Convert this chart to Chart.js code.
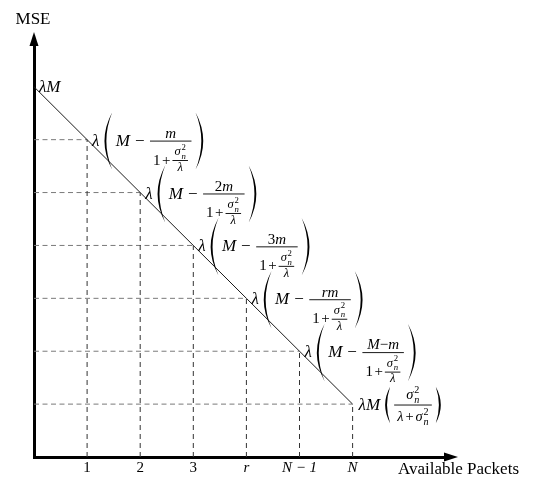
<!DOCTYPE html>
<html>
<head>
<meta charset="utf-8">
<script src="https://cdn.jsdelivr.net/npm/chart.js@4.4.0/dist/chart.umd.min.js"></script>
<style>
html, body { margin: 0; padding: 0; background: #fff; }
#wrap { width: 538px; height: 483px; }
</style>
</head>
<body>
<div id="wrap"><canvas id="mseChart" width="538" height="483"></canvas></div>
<script>
// --- Data ---
const packets = [0, 1, 2, 3, 4, 5, 6];
const packetLabels = ['', '1', '2', '3', 'r', 'N − 1', 'N'];
const mseLevels = [7, 6, 5, 4, 3, 2, 1];
const numerators = ['', 'm', '2m', '3m', 'rm', 'M−m', ''];
const yTitle = 'MSE';
const xTitle = 'Available Packets';

const SERIF = '"Liberation Serif", "DejaVu Serif", serif';
const S = 17, s = 15, ss = 12.5; // tailles : texte, fraction, fraction imbriquée
let mctx;

function fnt(size, italic) { return (italic ? 'italic ' : '') + size + 'px ' + SERIF; }

// --- petit moteur de formules ---
function txt(str, size, italic) {
    mctx.font = fnt(size, italic);
    const w = mctx.measureText(str).width;
    return { w, asc: size * 0.68, desc: size * 0.08,
        draw(x, b) { mctx.font = fnt(size, italic); mctx.fillText(str, x, b); } };
}

// lettres en italique, chiffres et signes droits
function mathStr(str, size) {
    const parts = [];
    let cur = '', curIt = null;
    for (const ch of str) {
        const it = /[a-zA-Zλσ]/.test(ch);
        if (curIt !== null && it !== curIt) { parts.push(txt(cur, size, curIt)); cur = ''; }
        cur += ch; curIt = it;
    }
    if (cur) parts.push(txt(cur, size, curIt));
    return row(...parts);
}

function row(...items) {
    let w = 0, asc = 0, desc = 0;
    items.forEach(it => {
        if (typeof it === 'number') w += it;
        else { w += it.w; asc = Math.max(asc, it.asc); desc = Math.max(desc, it.desc); }
    });
    return { w, asc, desc, draw(x, b) {
        let cx = x;
        items.forEach(it => {
            if (typeof it === 'number') cx += it;
            else { it.draw(cx, b); cx += it.w; }
        });
    } };
}

function frac(num, den, axisSize, pad) {
    const axis = axisSize * 0.27, gap = Math.max(1.6, axisSize * 0.12);
    const w = Math.max(num.w, den.w) + 2 * pad;
    return { w, asc: axis + gap + num.desc + num.asc, desc: gap + den.asc + den.desc - axis,
        draw(x, b) {
            const bar = b - axis;
            num.draw(x + (w - num.w) / 2, bar - gap - num.desc);
            den.draw(x + (w - den.w) / 2, bar + gap + den.asc);
            mctx.fillRect(x + 0.5, bar - 0.45, w - 1, 0.9);
        } };
}

function sigma2n(size) {
    const base = txt('σ', size, true);
    const k = Math.max(size * 0.7, 8.5);
    const sup = txt('2', k, false), sub = txt('n', k, true);
    return { w: base.w + Math.max(sup.w, sub.w) + 1, asc: size * 0.95, desc: size * 0.3,
        draw(x, b) {
            base.draw(x, b);
            sup.draw(x + base.w + 0.8, b - size * 0.42);
            sub.draw(x + base.w + 0.8, b + size * 0.3);
        } };
}

function drawParen(x, cy, half, pw, right) {
    const t = 1.9;
    const c = mctx;
    c.beginPath();
    if (!right) {
        c.moveTo(x + pw, cy - half);
        c.quadraticCurveTo(x - pw, cy, x + pw, cy + half);
        c.quadraticCurveTo(x + 2 * t - pw, cy, x + pw, cy - half);
    } else {
        c.moveTo(x, cy - half);
        c.quadraticCurveTo(x + 2 * pw, cy, x, cy + half);
        c.quadraticCurveTo(x + 2 * pw - 2 * t, cy, x, cy - half);
    }
    c.fill();
}

function paren(inner, axisSize) {
    const axis = axisSize * 0.27;
    const half = Math.max(inner.asc - axis, inner.desc + axis) - 2;
    const pw = Math.max(5, half * 0.27), gap = 3.5;
    return { w: inner.w + 2 * pw + 2 * gap, asc: half + axis, desc: half - axis,
        draw(x, b) {
            const cy = b - axis;
            drawParen(x, cy, half, pw, false);
            inner.draw(x + pw + gap, b);
            drawParen(x + pw + 2 * gap + inner.w, cy, half, pw, true);
        } };
}

function midLabel(numStr) {
    const den = row(txt('1', s, false), 1.5, txt('+', s, false), 1.5,
        frac(sigma2n(ss), txt('λ', ss, true), s, 2.5));
    return row(txt('λ', S, true), 5,
        paren(row(txt('M', S, true), 5, txt('−', S, false), 5, frac(mathStr(numStr, s), den, S, 3.5)), S));
}

function lastLabel() {
    const f = 14.5;
    const den = row(txt('λ', f, true), 2, txt('+', f, false), 2, sigma2n(f));
    return row(txt('λM', S, true), 5, paren(frac(sigma2n(f), den, S, 3.5), S));
}

// --- Plugin : flèches, étiquettes, titres ---
const mathLabels = {
    id: 'mathLabels',
    afterDatasetsDraw(chart) {
        const c = chart.ctx;
        mctx = c;
        const xs = chart.scales.x, ys = chart.scales.y, area = chart.chartArea;
        c.save();
        c.fillStyle = '#000';
        c.textAlign = 'left';
        c.textBaseline = 'alphabetic';

        // flèches des axes
        c.beginPath();
        c.moveTo(area.left, area.top - 13);
        c.lineTo(area.left - 4.5, area.top + 1);
        c.lineTo(area.left + 4.5, area.top + 1);
        c.closePath();
        c.fill();
        c.beginPath();
        c.moveTo(area.right + 13, area.bottom);
        c.lineTo(area.right - 1, area.bottom - 4.5);
        c.lineTo(area.right - 1, area.bottom + 4.5);
        c.closePath();
        c.fill();

        // étiquettes des points
        packets.forEach((p, i) => {
            const px = xs.getPixelForValue(p), py = ys.getPixelForValue(mseLevels[i]);
            if (i === 0) txt('λM', S, true).draw(px + 5, py + 5);
            else if (i === packets.length - 1) lastLabel().draw(px + 6, py + 5.5);
            else midLabel(numerators[i]).draw(px + 5, py + 6);
        });

        // titres
        c.font = fnt(17, false);
        c.textAlign = 'center';
        c.fillText(yTitle, area.left - 1, area.top - 21);
        c.textAlign = 'left';
        c.fillText(xTitle, area.right - 47, area.bottom + 17);
        c.restore();
    }
};

// --- Datasets ---
const guides = [];
for (let i = 1; i < packets.length; i++) {
    guides.push({
        data: [{ x: 0, y: mseLevels[i] }, { x: packets[i], y: mseLevels[i] }],
        borderColor: '#7a7a7a', borderDash: [5, 3.5]
    });
    guides.push({
        data: [{ x: packets[i], y: 0 }, { x: packets[i], y: mseLevels[i] }],
        borderColor: '#333', borderDash: [5, 4]
    });
}

const datasets = [{
    data: packets.map((p, i) => ({ x: p, y: mseLevels[i] })),
    borderColor: '#1a1a1a'
}].concat(guides).map(d => Object.assign({
    showLine: true, pointRadius: 0, borderWidth: 1, fill: false, tension: 0
}, d));

new Chart(document.getElementById('mseChart'), {
    type: 'scatter',
    data: { datasets },
    options: {
        responsive: false,
        animation: false,
        events: [],
        layout: { padding: { top: 45, left: 34, right: 93, bottom: 0 } },
        plugins: { legend: { display: false }, tooltip: { enabled: false } },
        scales: {
            x: {
                type: 'linear', min: 0, max: 7.74,
                grid: { display: false, drawTicks: false },
                border: { display: true, color: '#000', width: 3 },
                afterFit: sc => { sc.height = 26; },
                afterBuildTicks: sc => { sc.ticks = packets.slice(1).map(v => ({ value: v })); },
                ticks: {
                    autoSkip: false, maxRotation: 0, padding: 2, color: '#000',
                    font: c => ({ family: SERIF, size: 15, style: /[rN]/.test(packetLabels[c.index + 1] || '') ? 'italic' : 'normal' }),
                    callback: (v) => packetLabels[packets.indexOf(v)]
                }
            },
            y: {
                type: 'linear', min: 0, max: 7.79,
                grid: { display: false, drawTicks: false },
                border: { display: true, color: '#000', width: 3 },
                ticks: { display: false },
                afterFit: sc => { sc.width = 0; }
            }
        }
    },
    plugins: [mathLabels]
});
</script>
</body>
</html>
